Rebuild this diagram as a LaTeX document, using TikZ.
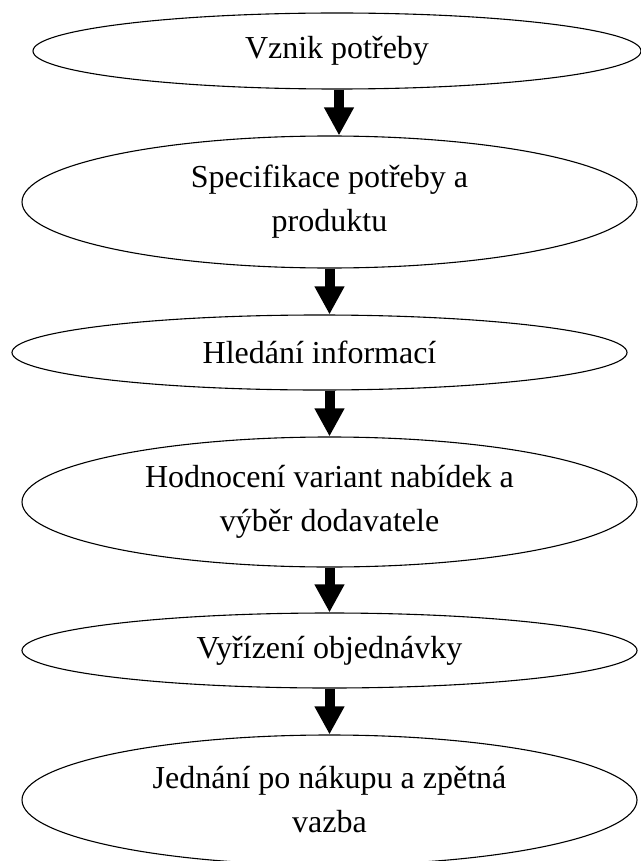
\documentclass[tikz,border=0pt]{standalone}
\usepackage{fontspec}
\setmainfont{Liberation Serif}
\usetikzlibrary{shapes.geometric,arrows.meta}
\begin{document}
\begin{tikzpicture}[x=1pt,y=-1pt,
  stage/.style={draw=black, line width=1.1pt, ellipse, inner sep=0pt, align=center,
                font=\fontsize{32}{44}\selectfont},
  flow/.style={line width=10pt, -{Triangle[width=28pt,length=28pt]}}]
\useasboundingbox (0,0) rectangle (640,861);
\node[stage, minimum width=608pt, minimum height=76pt] (e1) at (337,51) {Vznik potřeby};
\node[stage, minimum width=615pt, minimum height=132pt] (e2) at (329.5,202) {Specifikace potřeby a\\produktu};
\node[stage, minimum width=615pt, minimum height=75pt] (e3) at (319.5,352.5) {Hledání informací};
\node[stage, minimum width=615pt, minimum height=130pt] (e4) at (329.5,502) {Hodnocení variant nabídek a\\výběr dodavatele};
\node[stage, minimum width=615pt, minimum height=75pt] (e5) at (329.5,650.5) {Vyřízení objednávky};
\node[stage, minimum width=615pt, minimum height=130pt] (e6) at (329.5,800) {Jednání po nákupu a zpětná\\vazba};
\draw[flow] ([xshift=2pt]e1.south) -- ([xshift=2pt]e1.south |- e2.north);
\draw[flow] (e2.south) -- (e2.south |- e3.north);
\draw[flow] (e3.south -| e4.north) -- (e4.north);
\draw[flow] (e4.south) -- (e5.north);
\draw[flow] (e5.south) -- (e6.north);
\end{tikzpicture}
\end{document}
